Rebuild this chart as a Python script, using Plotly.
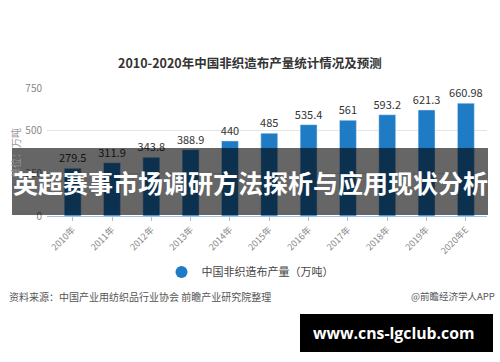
import plotly.graph_objects as go

categories = ["2010年", "2011年", "2012年", "2013年", "2014年", "2015年",
              "2016年", "2017年", "2018年", "2019年", "2020年E"]
values = [279.5, 311.9, 343.8, 388.9, 440, 485, 535.4, 561, 593.2, 621.3, 660.98]
value_labels = ["279.5", "311.9", "343.8", "388.9", "440", "485", "535.4",
                "561", "593.2", "621.3", "660.98"]
y_ticks = [0, 250, 500, 750]
series_name = "中国非织造布产量（万吨）"

W, H = 500, 362
L, R, T, B = 47, 13, 88, 146
PW, PH = W - L - R, H - T - B


def px(x):
    return (x - L) / PW


def py(y):
    return (H - B - y) / PH


FONT = "Noto Sans CJK SC"
BLUE = "#1f7bc4"

fig = go.Figure()
fig.add_trace(go.Bar(
    x=list(range(len(categories))), y=values, text=value_labels,
    textposition="outside", cliponaxis=False, constraintext="none",
    textfont=dict(size=11, color="#333333", family=FONT),
    marker=dict(color=BLUE), width=0.43, showlegend=False,
))
fig.add_trace(go.Scatter(
    x=[None], y=[None], mode="markers", name=series_name,
    marker=dict(color=BLUE, size=11, symbol="circle"),
))

fig.update_layout(
    width=W, height=H,
    margin=dict(l=L, r=R, t=T, b=B),
    paper_bgcolor="white", plot_bgcolor="white",
    font=dict(family=FONT, color="#888888"),
    xaxis=dict(
        range=[-0.653, 10.537],
        tickmode="array", tickvals=list(range(len(categories))), ticktext=categories,
        tickangle=-45, tickfont=dict(size=9, color="#888888"),
        showline=True, linecolor="#9cc3e6", linewidth=1,
        ticks="outside", ticklen=4, tickcolor="#bbbbbb",
        showgrid=False, zeroline=False,
    ),
    yaxis=dict(
        range=[0, 750], tickvals=y_ticks,
        tickfont=dict(size=10, color="#888888"),
        showgrid=True, gridcolor="#e4e4e4", zeroline=False,
        ticks="", ticklabelstandoff=4,
    ),
    legend=dict(orientation="h", x=px(250), xanchor="center", y=py(272), yanchor="middle",
                font=dict(size=11, color="#444444", family=FONT),
                itemsizing="constant"),
    bargap=0.5,
)

anns = [
    dict(text="<b>2010-2020年中国非织造布产量统计情况及预测</b>", x=px(250), y=py(62),
         font=dict(size=12.5, color="#333333", family=FONT)),
    dict(text="单位：万吨", x=px(15), y=py(153), textangle=-90,
         font=dict(size=10, color="#999999", family=FONT)),
    dict(text="资料来源：中国产业用纺织品行业协会 前瞻产业研究院整理", x=px(7), y=py(296),
         xanchor="left", font=dict(size=10, color="#555555", family=FONT)),
    dict(text="@前瞻经济学人APP", x=px(497), y=py(296), xanchor="right",
         font=dict(size=9.5, color="#555555", family=FONT)),
    dict(text="<b>英超赛事市场调研方法探析与应用现状分析</b>", x=px(250), y=py(182),
         font=dict(size=25, color="white", family=FONT)),
    dict(text="<b>www.cns-lgclub.com</b>", x=px(394), y=py(333),
         font=dict(size=15.8, color="white", family="Open Sans")),
]
for a in anns:
    a.update(xref="paper", yref="paper", showarrow=False, yanchor="middle")
    a.setdefault("xanchor", "center")
    fig.add_annotation(**a)

fig.add_shape(type="rect", xref="paper", yref="paper",
              x0=px(12), x1=px(488), y0=py(148), y1=py(215),
              fillcolor="rgba(0,0,0,0.6)", line=dict(width=0), layer="above")
fig.add_shape(type="rect", xref="paper", yref="paper",
              x0=px(300), x1=px(493), y0=py(314), y1=py(352),
              fillcolor="black", line=dict(width=0), layer="above")

fig.write_html("out.html", config={"displayModeBar": False},
               post_script="document.body.style.margin='0';document.body.style.overflow='hidden';")
